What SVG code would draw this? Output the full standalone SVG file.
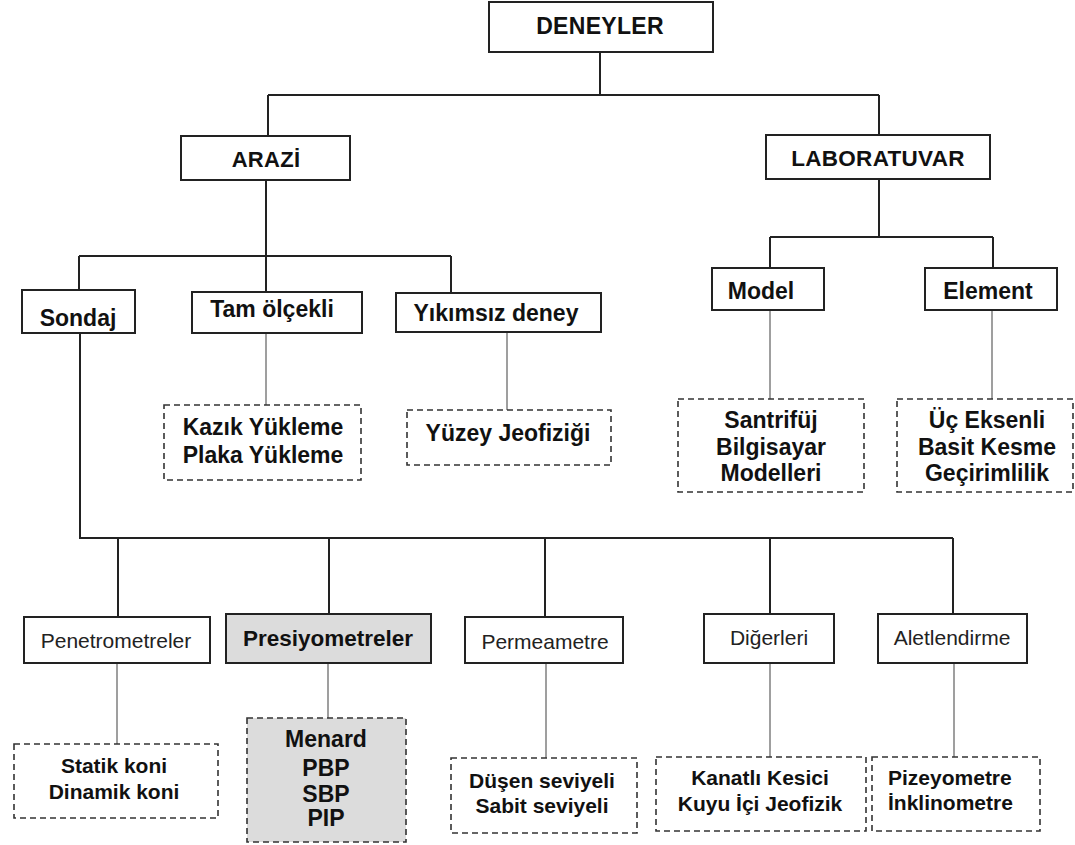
<svg xmlns="http://www.w3.org/2000/svg" width="1075" height="845" viewBox="0 0 1075 845">
<style>
.b{fill:#fff;stroke:#222;stroke-width:2}
.d{fill:#fff;stroke:#333;stroke-width:1.6;stroke-dasharray:6 4}
.t{font-family:"Liberation Sans",Arial,sans-serif;font-weight:bold;font-size:23px;text-anchor:middle;fill:#111}
.h{font-family:"Liberation Sans",Arial,sans-serif;font-weight:bold;font-size:22.5px;letter-spacing:0.3px;text-anchor:middle;fill:#111}
.s{font-family:"Liberation Sans",Arial,sans-serif;font-weight:bold;font-size:21px;text-anchor:middle;fill:#111}
.r{font-family:"Liberation Sans",Arial,sans-serif;font-size:21px;text-anchor:middle;fill:#222}
.k{fill:none;stroke:#222;stroke-width:2}
.m{fill:none;stroke:#888;stroke-width:1.6}
</style>
<rect width="1075" height="845" fill="#fff"/>
<g id="connectors">
<path class="k" d="M600 52V95M268 95H879M268 95V136M879 95V135M266 180V256M79 256H451M79 256V290M266 256V292M451 256V293M879 179V237M770 237H993M770 237V268M993 237V268M80 333V538M79 538H953M118 538V617M329 538V614M545 538V617M770 538V614M953 538V614"/>
<path class="m" d="M266 333V405M507 332V410M770 310V399M992 310V399M117 663V744M328 663V718M546 663V758M770 663V757M954 663V757"/>
</g>
<g id="deneyler"><rect class="b" x="489" y="2" width="224" height="50"/><text class="h" x="600" y="34" style="font-size:23px">DENEYLER</text></g>
<g id="arazi"><rect class="b" x="181" y="136" width="169" height="44"/><text class="h" x="266" y="167" style="font-size:22px">ARAZİ</text></g>
<g id="laboratuvar"><rect class="b" x="766" y="135" width="224" height="44"/><text class="h" x="878" y="166">LABORATUVAR</text></g>
<g id="sondaj"><rect class="b" x="22" y="290" width="113" height="43"/><text class="t" x="78" y="326">Sondaj</text></g>
<g id="tam-olcekli"><rect class="b" x="192" y="292" width="170" height="41"/><text class="t" x="272" y="317">Tam ölçekli</text></g>
<g id="yikimsiz"><rect class="b" x="396" y="293" width="205" height="39"/><text class="t" x="496" y="321">Yıkımsız deney</text></g>
<g id="model"><rect class="b" x="712" y="268" width="112" height="42"/><text class="t" x="761" y="299">Model</text></g>
<g id="element"><rect class="b" x="925" y="268" width="132" height="42"/><text class="t" x="988" y="299">Element</text></g>
<g id="kazik"><rect class="d" x="164" y="405" width="197" height="75"/><text class="t" x="263" y="435">Kazık Yükleme</text><text class="t" x="263" y="463">Plaka Yükleme</text></g>
<g id="yuzey"><rect class="d" x="407" y="410" width="204" height="55"/><text class="t" x="508" y="441">Yüzey Jeofiziği</text></g>
<g id="santrifuj"><rect class="d" x="678" y="399" width="186" height="93"/><text class="t" x="771" y="428">Santrifüj</text><text class="t" x="771" y="455">Bilgisayar</text><text class="t" x="771" y="481">Modelleri</text></g>
<g id="uc-eksenli"><rect class="d" x="897" y="399" width="176" height="93"/><text class="t" x="987" y="428">Üç Eksenli</text><text class="t" x="987" y="455">Basit Kesme</text><text class="t" x="987" y="481">Geçirimlilik</text></g>
<g id="penetrometreler"><rect class="b" x="24" y="617" width="186" height="46"/><text class="r" x="116" y="648">Penetrometreler</text></g>
<g id="presiyometreler"><rect class="b" x="226" y="614" width="205" height="49" style="fill:#dcdcdc"/><text class="t" x="328" y="646" style="font-size:22.5px">Presiyometreler</text></g>
<g id="permeametre"><rect class="b" x="465" y="617" width="158" height="46"/><text class="r" x="545" y="649">Permeametre</text></g>
<g id="digerleri"><rect class="b" x="704" y="614" width="130" height="49"/><text class="r" x="769" y="645">Diğerleri</text></g>
<g id="aletlendirme"><rect class="b" x="878" y="614" width="149" height="49"/><text class="r" x="952" y="645">Aletlendirme</text></g>
<g id="statik"><rect class="d" x="14" y="744" width="204" height="74"/><text class="s" x="114" y="773">Statik koni</text><text class="s" x="114" y="799">Dinamik koni</text></g>
<g id="menard"><rect class="d" x="247" y="718" width="159" height="124" style="fill:#dcdcdc"/><text class="t" x="326" y="747">Menard</text><text class="t" x="326" y="776">PBP</text><text class="t" x="326" y="802">SBP</text><text class="t" x="326" y="826">PIP</text></g>
<g id="dusen"><rect class="d" x="451" y="758" width="186" height="75"/><text class="s" x="542" y="788">Düşen seviyeli</text><text class="s" x="542" y="813">Sabit seviyeli</text></g>
<g id="kanatli"><rect class="d" x="656" y="757" width="210" height="74"/><text class="s" x="760" y="785">Kanatlı Kesici</text><text class="s" x="760" y="811">Kuyu İçi Jeofizik</text></g>
<g id="pizeyometre"><rect class="d" x="872" y="757" width="168" height="74"/><text class="s" x="888" y="785" style="text-anchor:start">Pizeyometre</text><text class="s" x="888" y="810" style="text-anchor:start">İnklinometre</text></g>
</svg>
